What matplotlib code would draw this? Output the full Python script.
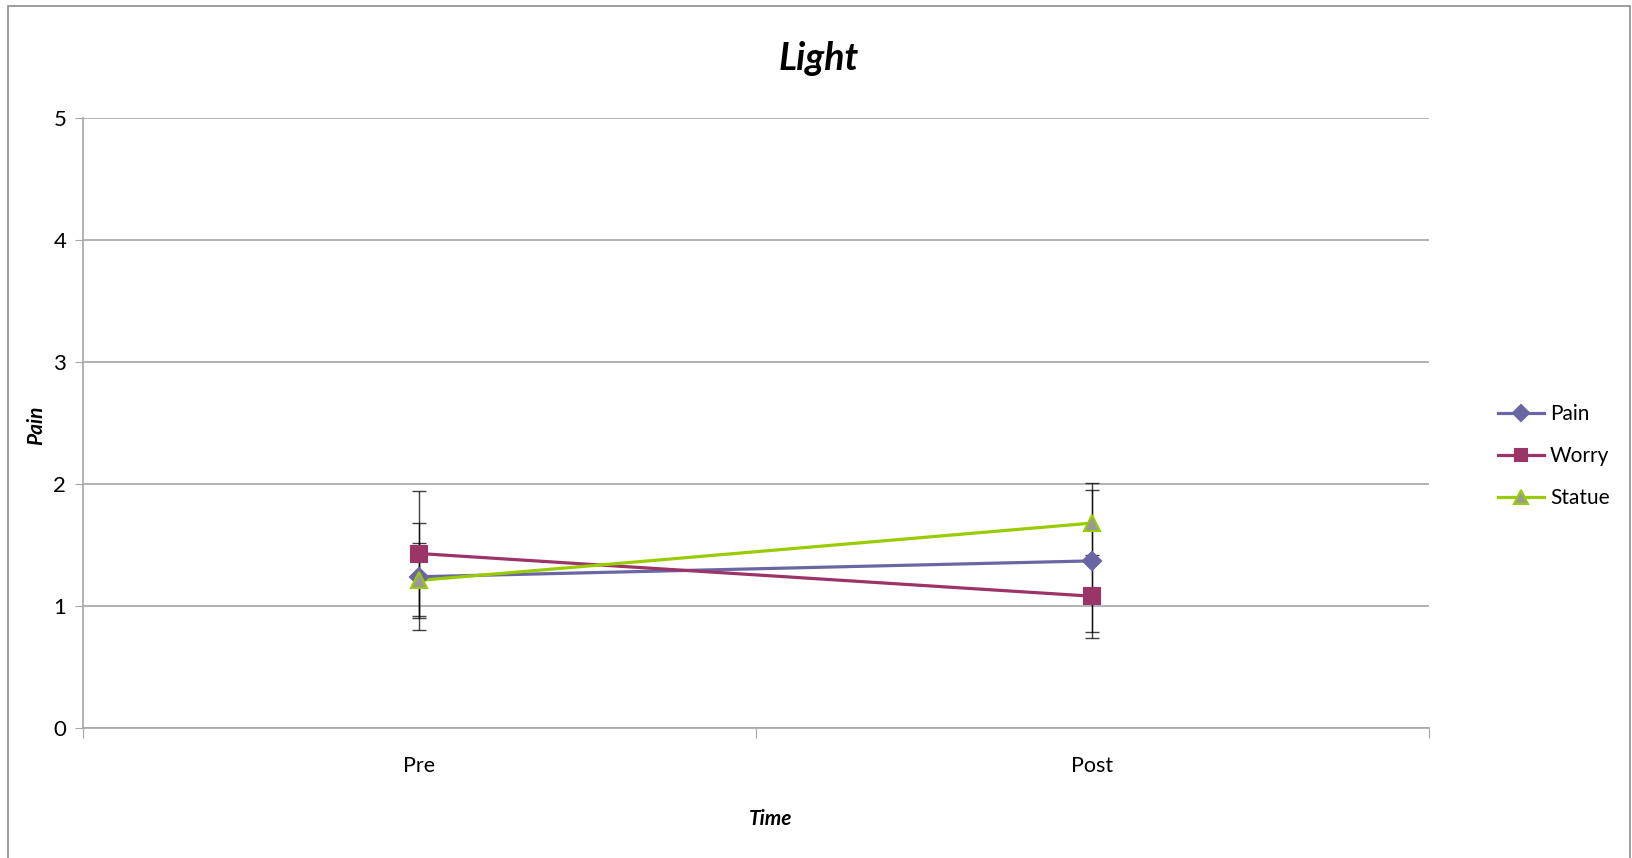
import matplotlib
matplotlib.use("Agg")
import matplotlib.pyplot as plt
from matplotlib.patches import Rectangle

plt.rcParams["font.family"] = ["Lato", "DejaVu Sans"]

# data
times = ["Pre", "Post"]
pain = [1.24, 1.37]
worry = [1.43, 1.08]
statue = [1.21, 1.68]
pain_err = [0.44, 0.58]
worry_err = [0.51, 0.34]
statue_err = [0.31, 0.33]

series = [
    ("Pain", pain, pain_err, "#6A66A3", "D", "#6A66A3", 9.5),
    ("Worry", worry, worry_err, "#9B3467", "s", "#9B3467", 11),
    ("Statue", statue, statue_err, "#99CC00", "^", "#999999", 12),
]

W, H = 1633, 858
fig = plt.figure(figsize=(W / 100, H / 100), dpi=100)
fig.patches.append(Rectangle((8 / W, -0.1), (1630 - 8) / W, 1.1 - 6 / H,
                             transform=fig.transFigure, fill=False,
                             edgecolor="#8c8c8c", linewidth=1.2))

ax = fig.add_axes([83 / W, (H - 728) / H, 1346 / W, 610 / H])
xs = [0.5, 1.5]

for name, vals, errs, col, mk, face, ms in series:
    ax.plot(xs, vals, color=col, linewidth=2.3, zorder=3)
    ax.errorbar(xs, vals, yerr=errs, fmt="none", ecolor="black", elinewidth=1,
                capsize=4.8, capthick=1, alpha=0.75, zorder=4)

for name, vals, errs, col, mk, face, ms in series:
    ax.plot(xs, vals, marker=mk, markersize=ms, markerfacecolor=face,
            markeredgecolor=col, markeredgewidth=1.5, linestyle="none", zorder=5)

handles = [plt.Line2D([], [], color=col, linewidth=2.3, marker=mk, markersize=ms * 0.85,
                      markerfacecolor=face, markeredgecolor=col, markeredgewidth=1.5)
           for name, vals, errs, col, mk, face, ms in series]
fig.legend(handles, [s[0] for s in series], loc="center left",
           bbox_to_anchor=(1498 / W, 1 - 456 / H), frameon=False,
           borderpad=0, borderaxespad=0,
           fontsize=15, handlelength=2.2, labelspacing=1.05, handletextpad=0.3)

ax.set_xlim(0, 2)
ax.set_ylim(0, 5)
ax.set_yticks(range(6))
ax.set_xticks([0, 1, 2])
ax.set_xticklabels([])
ax.set_xticks(xs, minor=True)
ax.set_xticklabels(times, minor=True)
ax.tick_params(axis="x", which="minor", length=0, pad=20, labelsize=15.5)
ax.tick_params(axis="x", which="major", length=7, color="#a6a6a6", direction="out")
ax.tick_params(axis="y", length=6, color="#a6a6a6", labelsize=16, pad=6)

ax.grid(axis="y", color="#a6a6a6", linewidth=1.2)
ax.set_axisbelow(True)
for s in ["top", "right"]:
    ax.spines[s].set_visible(False)
for s in ["left", "bottom"]:
    ax.spines[s].set_color("#a6a6a6")
    ax.spines[s].set_linewidth(1.2)

fig.text(36 / W, 1 - 425 / H, "Pain", fontsize=15, fontweight="bold",
         fontstyle="italic", rotation=90, ha="center", va="center")
fig.text(771 / W, 1 - 819 / H, "Time", fontsize=15, fontweight="bold",
         fontstyle="italic", ha="center", va="center")
fig.text(819 / W, 1 - 59 / H, "Light", fontsize=27, fontweight="bold",
         fontstyle="italic", ha="center", va="center")

fig.savefig("out.png", dpi=100)
